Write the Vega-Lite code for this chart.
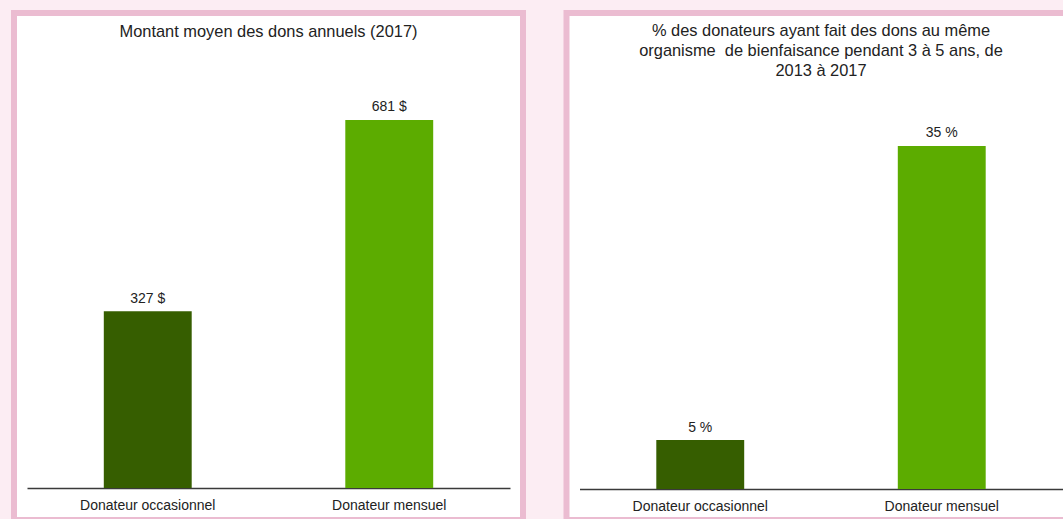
{
  "$schema": "https://vega.github.io/schema/vega-lite/v6.json",
  "background": "#fcedf3",
  "padding": {"left": 11, "top": 10, "right": 0, "bottom": 0},
  "spacing": 37.5,
  "config": {
    "view": {"stroke": "#ebbcd1", "strokeWidth": 6, "fill": "white"},
    "font": "Liberation Sans",
    "title": {"fontSize": 16.4, "fontWeight": "normal", "color": "#222222", "anchor": "middle", "frame": "group", "baseline": "top", "lineHeight": 20},
    "axisX": {"ticks": false, "tickSize": 0, "labelPadding": 10.5, "labelFontSize": 14, "labelColor": "#222222", "domainColor": "#3a3a3a", "domainWidth": 1.5, "labelAngle": 0, "grid": false, "title": null}
  },
  "hconcat": [
    {
      "width": 509,
      "height": 507,
      "title": {"text": "Montant moyen des dons annuels (2017)", "offset": -27},
      "data": {"values": [
        {"type": "Donateur occasionnel", "value": 327, "label": "327 $"},
        {"type": "Donateur mensuel", "value": 681, "label": "681 $"}
      ]},
      "encoding": {
        "x": {"field": "type", "type": "nominal", "sort": null,
              "scale": {"range": [13, 496], "paddingInner": 0.636, "paddingOuter": 0.318},
              "axis": {"orient": "bottom", "offset": -32, "title": null}},
        "y": {"field": "value", "type": "quantitative", "scale": {"domain": [-59.2, 879], "nice": false, "zero": false}, "axis": null}
      },
      "layer": [
        {"mark": {"type": "bar"},
         "encoding": {
           "y2": {"datum": 0},
           "color": {"field": "type", "type": "nominal", "scale": {"domain": ["Donateur occasionnel", "Donateur mensuel"], "range": ["#365e00", "#5cac00"]}, "legend": null}
         }},
        {"mark": {"type": "text", "baseline": "bottom", "dy": -5.5, "fontSize": 14, "color": "#222222"},
         "encoding": {"text": {"field": "label"}}}
      ]
    },
    {
      "width": 509,
      "height": 507,
      "title": {"text": ["% des donateurs ayant fait des dons au même", "organisme \u00a0de bienfaisance pendant 3 à 5 ans, de", "2013 à 2017"], "offset": -66.5},
      "data": {"values": [
        {"type": "Donateur occasionnel", "value": 5, "label": "5 %"},
        {"type": "Donateur mensuel", "value": 35, "label": "35 %"}
      ]},
      "encoding": {
        "x": {"field": "type", "type": "nominal", "sort": null,
              "scale": {"range": [13, 496], "paddingInner": 0.636, "paddingOuter": 0.318},
              "axis": {"orient": "bottom", "offset": -31, "title": null}},
        "y": {"field": "value", "type": "quantitative", "scale": {"domain": [-3.16, 48.57], "nice": false, "zero": false}, "axis": null}
      },
      "layer": [
        {"mark": {"type": "bar"},
         "encoding": {
           "y2": {"datum": 0},
           "color": {"field": "type", "type": "nominal", "scale": {"domain": ["Donateur occasionnel", "Donateur mensuel"], "range": ["#365e00", "#5cac00"]}, "legend": null}
         }},
        {"mark": {"type": "text", "baseline": "bottom", "dy": -5.5, "fontSize": 14, "color": "#222222"},
         "encoding": {"text": {"field": "label"}}}
      ]
    }
  ]
}
